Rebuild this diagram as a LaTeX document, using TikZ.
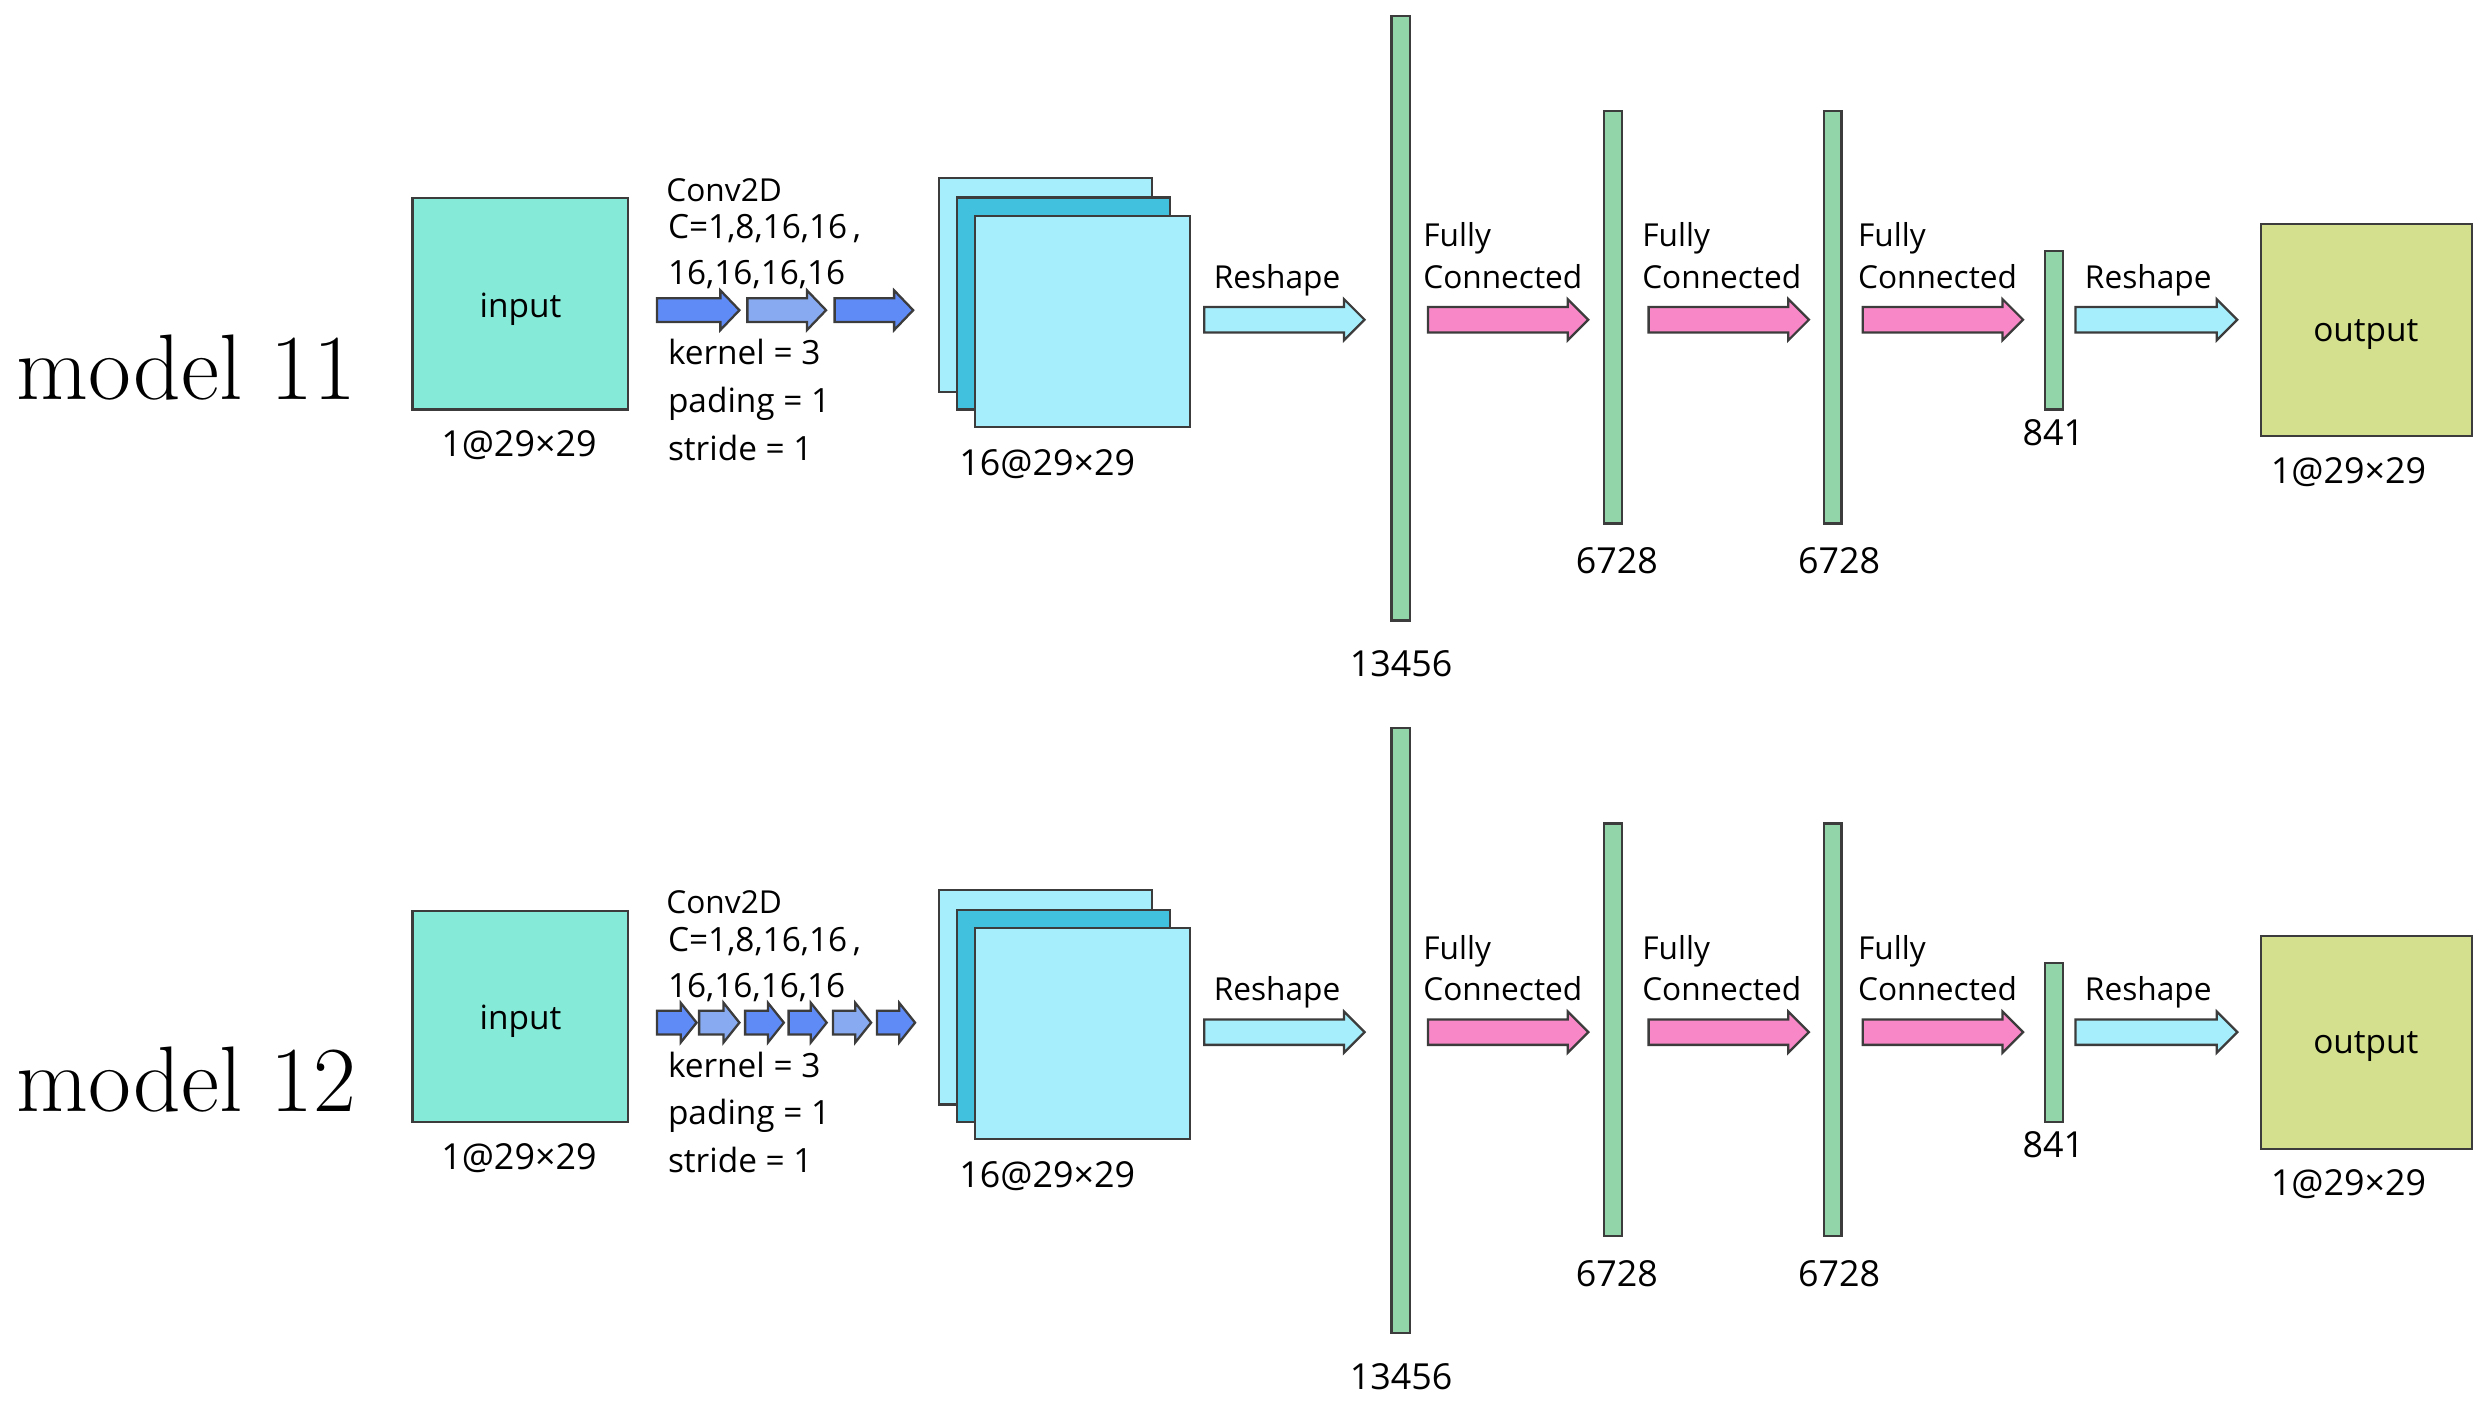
\documentclass[tikz,border=0pt]{standalone}
\usepackage{fontspec}
\setsansfont{Open Sans}
\definecolor{cinput}{RGB}{133,234,216}
\definecolor{coutput}{RGB}{212,224,142}
\definecolor{cbar}{RGB}{145,213,168}
\definecolor{cpink}{RGB}{247,135,198}
\definecolor{ccyan}{RGB}{166,238,251}
\definecolor{cmid}{RGB}{66,193,222}
\definecolor{cblue}{RGB}{95,139,247}
\definecolor{clblue}{RGB}{135,170,240}
\definecolor{cstroke}{RGB}{60,60,60}
\newcommand\uu{0.015867cm}
\tikzset{
 outl/.style={draw=cstroke, line width=0.65pt},
 lbl/.style={font=\sffamily\fontsize{9.5}{11}\selectfont, inner sep=0pt, outer sep=0pt},
 lblb/.style={lbl, anchor=base},
 lblw/.style={lbl, anchor=base west},
 numl/.style={lblb, font=\sffamily\fontsize{10.2}{12}\selectfont},
 wordl/.style={lblw, font=\sffamily\fontsize{9}{11}\selectfont},
 modelf/.style={font=\rmfamily\fontsize{26.5}{30}\selectfont, inner sep=0pt, anchor=base west},
}
\newcommand\rectnode[6]{\node[outl, fill=#6, inner sep=0pt, outer sep=0pt, minimum width={(#4-#2)*\uu}, minimum height={(#5-#3)*\uu}] (#1) at ({(#2+#4)/2},{(#3+#5)/2}) {};}
\newcommand\blockarrow[7]{\draw[outl, fill=#7] (#1,#3-#4) -- (#2-#6,#3-#4) -- (#2-#6,#3-#5) -- (#2,#3) -- (#2-#6,#3+#5) -- (#2-#6,#3+#4) -- (#1,#3+#4) -- cycle;}
\newcommand\drawrow[2]{%
\begin{scope}[shift={(0,#1)}]
 \node[modelf] (model#2) at (10,251.5) {model #2};
 \rectnode{in#2}{260}{125}{396}{258}{cinput}
 \node[lblb] (intxt#2) at (328,200) {input};
 \node[numl] (indim#2) at (327,288) {1@29×29};
 \node[lblw, font=\sffamily\fontsize{9}{11}\selectfont] (conv#2) at (420,127) {Conv2D};
 \node[lblw] (ch#2) at (421,150.6) {C=1,8,16,16\,,};
 \node[lblw] (chb#2) at (421,179.6) {16,16,16,16};
 \node[lblw] (ker#2) at (421,230) {kernel = 3};
 \node[lblw] (pad#2) at (421,259.8) {pading = 1};
 \node[lblw] (str#2) at (421,290) {stride = 1};
 \rectnode{fmA#2}{592}{112}{726}{247}{ccyan}
 \rectnode{fmB#2}{603}{124.5}{737.5}{258}{cmid}
 \rectnode{fmC#2}{614.5}{136}{750}{269}{ccyan}
 \node[numl] (fmdim#2) at (660,299.5) {16@29×29};
 \blockarrow{759}{860}{201.5}{8}{13}{13}{ccyan}
 \node[wordl] (rsA#2) at (765,181.6) {Reshape};
 \rectnode{fcA#2}{877}{10}{888.5}{391}{cbar}
 \node[numl] (fcAdim#2) at (883,426.5) {13456};
 \blockarrow{900}{1001}{201.5}{8}{13}{13}{cpink}
 \node[wordl] (fA#2) at (897,155.5) {Fully};
 \node[wordl] (cA#2) at (897,181.6) {Connected};
 \rectnode{fcB#2}{1011}{70}{1022}{330}{cbar}
 \node[numl] (fcBdim#2) at (1019,361.5) {6728};
 \blockarrow{1039}{1140}{201.5}{8}{13}{13}{cpink}
 \node[wordl] (fB#2) at (1035,155.5) {Fully};
 \node[wordl] (cB#2) at (1035,181.6) {Connected};
 \rectnode{fcC#2}{1149.5}{70}{1160.5}{330}{cbar}
 \node[numl] (fcCdim#2) at (1159,361.5) {6728};
 \blockarrow{1174}{1275}{201.5}{8}{13}{13}{cpink}
 \node[wordl] (fC#2) at (1171,155.5) {Fully};
 \node[wordl] (cC#2) at (1171,181.6) {Connected};
 \rectnode{fcD#2}{1289}{158}{1300}{258}{cbar}
 \node[numl] (fcDdim#2) at (1294,280.5) {841};
 \blockarrow{1308}{1410}{201.5}{8}{13}{13}{ccyan}
 \node[wordl] (rsB#2) at (1314,181.6) {Reshape};
 \rectnode{out#2}{1425}{141}{1558}{275}{coutput}
 \node[lblb] (outtxt#2) at (1491,215) {output};
 \node[numl] (outdim#2) at (1480,304.5) {1@29×29};
\end{scope}}
\begin{document}
\begin{tikzpicture}[x=\uu, y=-\uu]
\useasboundingbox (0,0) rectangle (1568,889);
\drawrow{0}{11}
\drawrow{449}{12}
% model 11 conv arrows
\blockarrow{414}{466}{195.5}{7.5}{12.5}{12}{cblue}
\blockarrow{471}{520.6}{195.5}{7.5}{12.5}{12}{clblue}
\blockarrow{526}{575.5}{195.5}{7.5}{12.5}{12}{cblue}
% model 12 conv arrows
\blockarrow{414}{439}{644.5}{7.5}{12.5}{10}{cblue}
\blockarrow{440.6}{466}{644.5}{7.5}{12.5}{10}{clblue}
\blockarrow{469.6}{494}{644.5}{7.5}{12.5}{10}{cblue}
\blockarrow{497}{521}{644.5}{7.5}{12.5}{10}{cblue}
\blockarrow{525}{549}{644.5}{7.5}{12.5}{10}{clblue}
\blockarrow{552.7}{576.7}{644.5}{7.5}{12.5}{10}{cblue}
\end{tikzpicture}
\end{document}
